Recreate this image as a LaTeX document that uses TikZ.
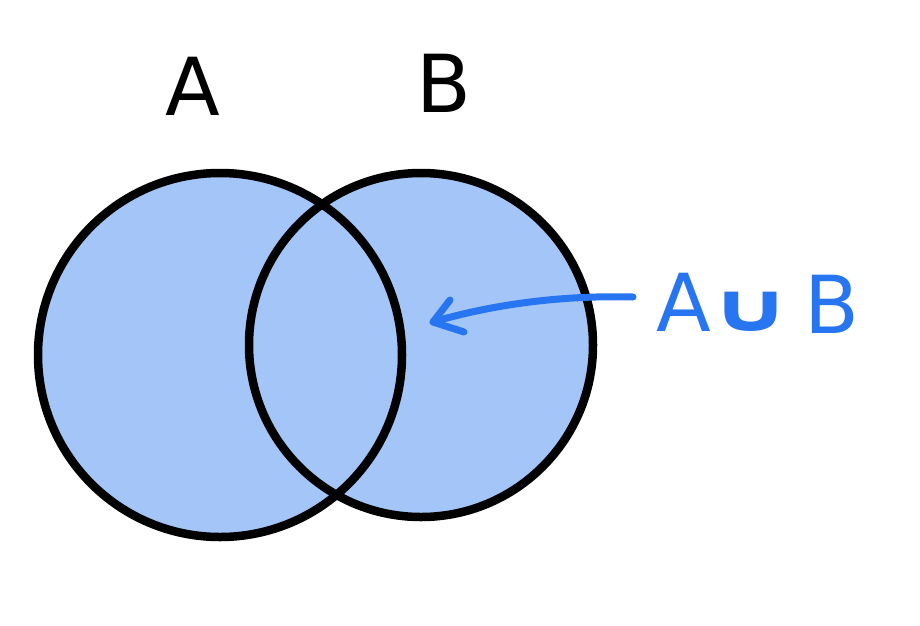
\documentclass[tikz,border=0pt]{standalone}
\usepackage{fontspec}
\setmainfont{DejaVu Sans}
\definecolor{fillblue}{HTML}{A3C5F8}
\definecolor{inkblue}{HTML}{2775F0}
\begin{document}
\begin{tikzpicture}[x=1pt,y=-1pt,
  setcircle/.style={line width=8.5pt,draw=black},
  biglabel/.style={font=\fontsize{80}{80}\selectfont,inner sep=0pt},
  bluelabel/.style={biglabel,text=inkblue},
  arrowline/.style={line width=7pt,draw=inkblue,line cap=round,line join=round}]
\useasboundingbox (0,0) rectangle (920,625);
\coordinate (ca) at (220,355);
\coordinate (cb) at (421,345);
\fill[fillblue] (ca) circle[radius=182];
\fill[fillblue] (cb) circle[radius=172];
\draw[setcircle] (ca) circle[radius=182];
\draw[setcircle] (cb) circle[radius=172];
\node[biglabel] (la) at (193,86) {A};
\node[biglabel] (lb) at (444,83) {B};
\node[bluelabel] (ua) at (684,302) {A};
\node[font=\bfseries\fontsize{68}{68}\selectfont,inner sep=0pt,text=inkblue,xscale=1.5,transform shape] (ucup) at (751,312) {∪};
\node[bluelabel] (ub) at (832,304) {B};
\coordinate (tail) at (633,297);
\coordinate (tip) at (433,322);
\draw[arrowline] (tail) .. controls (560,295) and (490,305) .. (tip);
\draw[arrowline] (450,300) -- (tip) -- (464,332);
\end{tikzpicture}
\end{document}
